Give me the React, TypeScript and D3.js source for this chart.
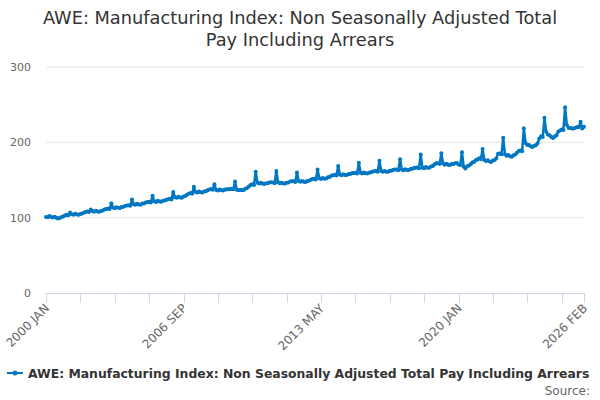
import React from "react";
import * as d3 from "d3";

const seriesName =
  "AWE: Manufacturing Index: Non Seasonally Adjusted Total Pay Including Arrears";
const titleLines = [
  "AWE: Manufacturing Index: Non Seasonally Adjusted Total",
  "Pay Including Arrears",
];
const startYear = 2000;
const monthNames = ["JAN", "FEB", "MAR", "APR", "MAY", "JUN", "JUL", "AUG", "SEP", "OCT", "NOV", "DEC"];

// monthly index values, one row per year (2000 JAN .. 2026 FEB)
const values = [
  101.0, 100.5, 102.3, 101.0, 100.2, 101.2, 99.8, 98.8, 99.4, 100.9, 101.4, 103.0,
  104.0, 103.2, 107.0, 104.6, 104.0, 105.3, 104.3, 103.9, 104.9, 105.4, 106.6, 107.5,
  108.2, 107.4, 111.0, 108.7, 108.0, 109.3, 108.3, 107.9, 109.0, 109.4, 110.8, 111.6,
  112.2, 111.4, 119.0, 113.4, 112.6, 113.9, 113.0, 112.8, 114.0, 114.4, 115.6, 116.2,
  116.5, 115.7, 124.0, 117.7, 117.0, 118.5, 117.6, 117.3, 118.7, 118.8, 120.1, 120.7,
  121.0, 120.2, 129.0, 121.7, 120.8, 122.3, 121.4, 121.1, 122.5, 122.7, 123.9, 124.6,
  125.0, 124.1, 134.0, 127.2, 126.3, 127.7, 126.7, 126.5, 128.1, 128.8, 130.5, 131.7,
  132.7, 131.8, 141.0, 134.2, 133.3, 134.6, 133.6, 133.4, 134.9, 135.2, 136.5, 137.4,
  138.0, 137.1, 144.5, 136.7, 136.0, 137.3, 136.4, 136.1, 137.5, 137.3, 137.9, 137.6,
  138.4, 137.6, 148.0, 137.2, 136.3, 137.1, 136.4, 136.8, 138.5, 139.4, 141.5, 143.2,
  144.2, 143.4, 161.0, 146.4, 145.3, 146.3, 145.2, 144.8, 145.8, 145.6, 146.6, 147.0,
  146.7, 145.8, 162.0, 147.0, 145.6, 146.5, 145.4, 145.2, 146.5, 146.7, 147.9, 148.4,
  148.2, 147.3, 160.0, 148.7, 147.6, 148.6, 147.6, 147.4, 148.8, 149.0, 150.3, 151.2,
  151.7, 150.8, 164.0, 152.4, 151.4, 152.7, 151.8, 152.1, 153.7, 154.1, 155.5, 156.4,
  157.0, 156.0, 168.6, 157.4, 156.3, 157.6, 156.7, 156.5, 157.8, 157.8, 158.9, 159.4,
  159.6, 158.7, 173.0, 159.7, 158.7, 159.9, 158.9, 158.7, 160.0, 160.1, 161.2, 161.7,
  161.8, 160.9, 175.6, 161.8, 160.8, 162.1, 161.1, 161.0, 162.3, 162.4, 163.5, 164.0,
  164.0, 163.1, 177.5, 163.8, 162.8, 164.2, 163.3, 163.2, 164.6, 164.8, 165.9, 166.4,
  166.5, 165.6, 184.0, 166.4, 165.6, 167.1, 166.2, 166.3, 167.9, 168.6, 170.6, 172.2,
  172.4, 171.3, 185.4, 172.0, 170.4, 171.5, 170.2, 169.8, 171.1, 171.1, 172.2, 172.6,
  170.7, 170.0, 187.0, 167.7, 165.3, 168.1, 169.3, 170.8, 173.1, 174.0, 176.3, 177.2,
  178.8, 177.6, 191.0, 176.6, 175.3, 176.3, 174.6, 174.0, 175.8, 176.4, 178.9, 184.7,
  185.2, 184.3, 206.0, 184.2, 182.3, 183.3, 181.4, 180.8, 182.7, 183.8, 186.3, 188.4,
  189.2, 188.3, 218.6, 199.2, 196.3, 196.3, 194.8, 193.8, 195.5, 196.2, 198.9, 205.2,
  208.2, 207.0, 232.7, 214.2, 210.3, 209.3, 207.0, 205.8, 207.8, 209.3, 214.1, 215.7,
  217.2, 216.3, 246.5, 223.2, 219.3, 219.1, 218.2, 218.4, 219.3, 220.3, 220.3, 227.2,
  218.3, 220.7,
];

const yTicks = [0, 100, 200, 300];
const xTickStep = 20;
const xLabelIndexes = [0, 80, 160, 240, 313];

const months = values.map(
  (_, i) => `${startYear + Math.floor(i / 12)} ${monthNames[i % 12]}`,
);

const lineColor = "#0077c2";
const font = "'DejaVu Sans', sans-serif";

const App = () => {
  const width = 600;
  const height = 400;
  const left = 46;
  const right = 584;
  const top = 67;
  const bottom = 293;

  const x = d3.scalePoint().domain(months).range([left, right]);
  const y = d3.scaleLinear().domain([0, 300]).range([bottom, top]);

  const line = d3
    .line()
    .x((d, i) => x(months[i]))
    .y((d) => y(d));

  const tickIdx = d3.range(0, months.length, xTickStep).concat([months.length - 1]);

  return (
    <div style={{ position: "absolute", left: 0, top: 0 }}>
      <svg width={width} height={height} style={{ fontFamily: font, display: "block" }}>
        <rect width={width} height={height} fill="#ffffff" />
        {titleLines.map((t, i) => (
          <text
            key={t}
            x={width / 2}
            y={24 + i * 22}
            textAnchor="middle"
            fontSize={17.8}
            fill="#333333"
          >
            {t}
          </text>
        ))}

        {/* grid + y labels */}
        {yTicks.map((t) => (
          <g key={t}>
            {t > 0 && (
              <line x1={left} x2={right} y1={y(t)} y2={y(t)} stroke="#e6e6e6" strokeWidth={1} />
            )}
            <text x={31} y={y(t) + 4} textAnchor="end" fontSize={11} fill="#666666">
              {t}
            </text>
          </g>
        ))}

        {/* x axis */}
        <line x1={left} x2={right} y1={bottom + 0.5} y2={bottom + 0.5} stroke="#ccd6eb" strokeWidth={1} />
        {tickIdx.map((i) => (
          <line
            key={i}
            x1={Math.round(x(months[i])) + 0.5}
            x2={Math.round(x(months[i])) + 0.5}
            y1={bottom}
            y2={bottom + 10}
            stroke="#ccd6eb"
            strokeWidth={1}
          />
        ))}
        {xLabelIndexes.map((i) => (
          <text
            key={i}
            transform={`translate(${x(months[i]) + 4},${bottom + 16}) rotate(-45)`}
            textAnchor="end"
            fontSize={12}
            fill="#666666"
          >
            {months[i]}
          </text>
        ))}

        {/* series */}
        <path d={line(values)} fill="none" stroke={lineColor} strokeWidth={2.5} strokeLinejoin="round" />
        {values.map((v, i) => (
          <circle key={i} cx={x(months[i])} cy={y(v)} r={2} fill={lineColor} />
        ))}

        {/* legend */}
        <line x1={7} x2={23} y1={373} y2={373} stroke={lineColor} strokeWidth={2} />
        <circle cx={15} cy={373} r={2.5} fill={lineColor} />
        <text x={28} y={377.5} fontSize={12.4} fontWeight="bold" fill="#333333">
          {seriesName}
        </text>
        <text x={590} y={395} textAnchor="end" fontSize={12} fill="#666666">
          Source:
        </text>
      </svg>
    </div>
  );
};

export default App;
